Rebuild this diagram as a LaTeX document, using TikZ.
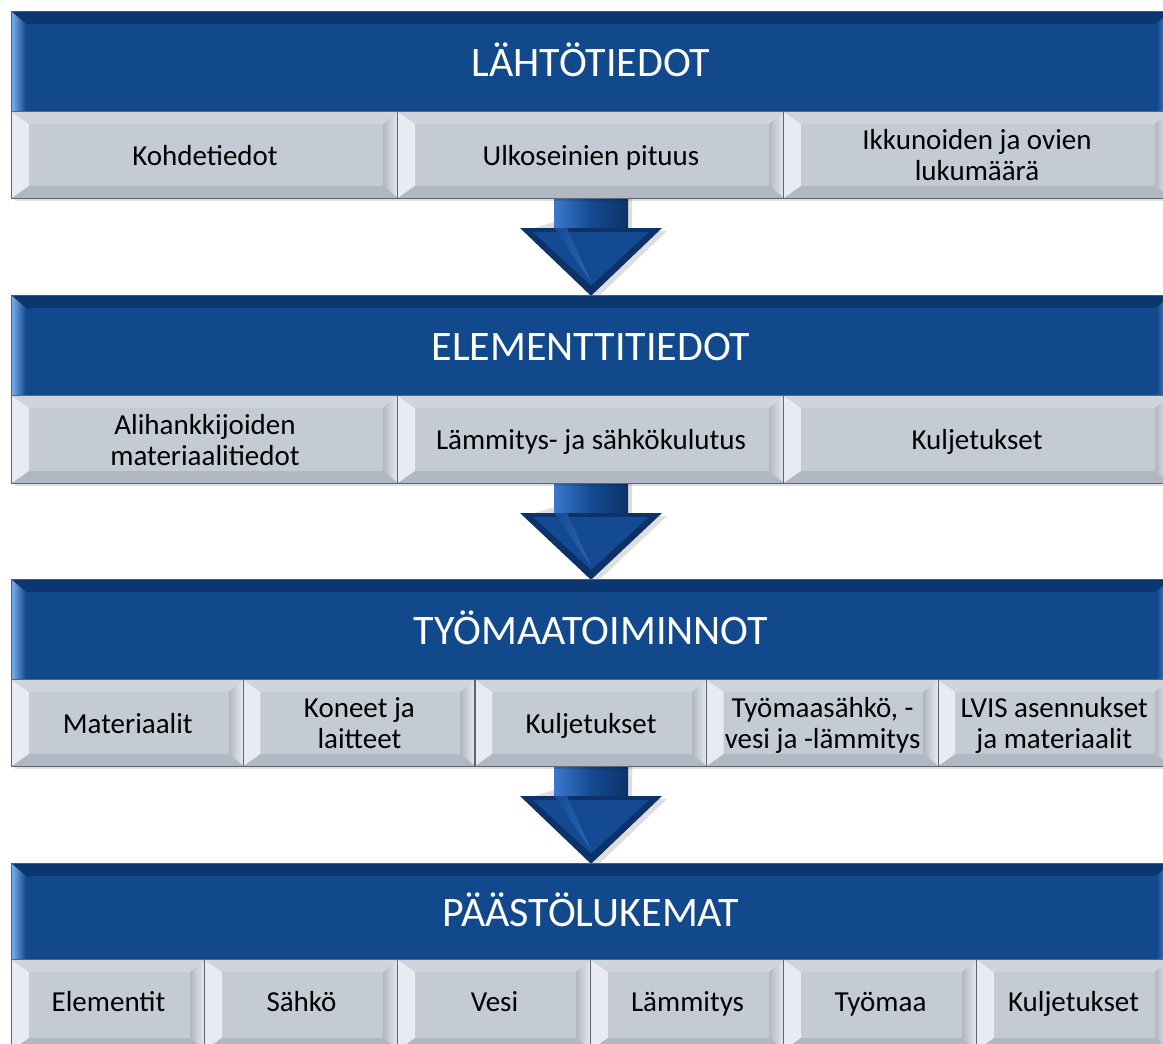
\documentclass[tikz,border=0pt]{standalone}
\usepackage{fontspec}
\setmainfont{Carlito}
\usetikzlibrary{calc}
\definecolor{hblue}{RGB}{18,72,140}
\definecolor{hbluedark}{RGB}{12,54,110}
\definecolor{hbluelight}{RGB}{120,175,235}
\definecolor{cellgray}{RGB}{197,203,213}
\definecolor{celllight}{RGB}{232,236,242}
\definecolor{cellmid}{RGB}{208,213,221}
\definecolor{celldark}{RGB}{178,184,195}
\definecolor{celledge}{RGB}{96,100,108}
\definecolor{arrowblue}{RGB}{20,74,145}
\definecolor{arrowlight}{RGB}{60,120,205}
\definecolor{arrowdark}{RGB}{12,50,105}

\newcommand\cellbevel[1]{%
  \fill[celllight] (#1.south west) -- (#1.north west) -- ($(#1.north west)+(17,12)$) -- ($(#1.south west)+(17,-12)$) -- cycle;
  \fill[cellmid] (#1.north west) -- (#1.north east) -- ($(#1.north east)+(-15,12)$) -- ($(#1.north west)+(17,12)$) -- cycle;
  \shade[left color=celldark, right color=celllight] (#1.north east) -- (#1.south east) -- ($(#1.south east)+(-15,-12)$) -- ($(#1.north east)+(-15,12)$) -- cycle;
  \fill[celldark] (#1.south west) -- (#1.south east) -- ($(#1.south east)+(-15,-12)$) -- ($(#1.south west)+(17,-12)$) -- cycle;
  \draw[celledge, line width=1.2pt] (#1.south west) rectangle (#1.north east);
}
\newcommand\headbevel[1]{%
  \fill[hbluedark] (#1.north west) -- (#1.north east) -- ($(#1.north east)+(-14,12)$) -- ($(#1.north west)+(14,12)$) -- cycle;
  \shade[left color=hbluelight, right color=hblue] (#1.north west) -- (#1.south west) -- ($(#1.south west)+(14,0)$) -- ($(#1.north west)+(14,12)$) -- cycle;
  \shade[left color=hblue, right color=hbluelight!70!hblue] (#1.north east) -- (#1.south east) -- ($(#1.south east)+(-14,0)$) -- ($(#1.north east)+(-14,12)$) -- cycle;
  \draw[celledge!70!hblue, line width=0.8pt] (#1.south west) rectangle (#1.north east);
}
\newcommand\bigarrow[2]{%
  % #1 top coordinate, #2 tip coordinate
  \fill[black, opacity=0.13] ($(#1)+(41,0)$) -- ($(#1)+(41,33)$) -- ($(#1)+(76,33)$) -- ($(#2)+(4,4)$) -- ($(#1)+(-66,33)$) -- cycle;
  \shade[left color=arrowlight, right color=arrowdark, middle color=arrowblue] ($(#1)+(-37,0)$) -- ($(#1)+(-37,32)$) -- ($(#1)+(37,32)$) -- ($(#1)+(37,0)$) -- cycle;
  \fill[arrowdark] ($(#1)+(-71,30)$) -- (#2) -- ($(#1)+(71,30)$) -- cycle;
  \fill[arrowblue] ($(#1)+(-58,34)$) -- ($(#2)+(0,-10)$) -- ($(#1)+(58,34)$) -- cycle;
  \shade[left color=arrowblue, right color=arrowlight!60!arrowblue] ($(#1)+(-37,30)$) -- ($(#1)+(-24,30)$) -- ($(#2)+(0,-14)$) -- cycle;
}

\tikzset{
  header/.style={fill=hblue, inner sep=0pt, minimum width=1158pt},
  headtext/.style={text=white, anchor=base, inner sep=0pt, font=\fontsize{42}{48}\selectfont},
  cellbox/.style={fill=cellgray, inner sep=0pt, minimum height=86pt},
  celltext/.style={text=black, align=center, inner sep=0pt, font=\fontsize{29}{31}\selectfont},
}

\begin{document}
\begin{tikzpicture}[x=1pt,y=-1pt]
\useasboundingbox (0,0) rectangle (1163,1044);
\fill[white] (0,0) rectangle (1163,1044);
\clip (0,0) rectangle (1163,1044);

% top coordinates for arrows
\coordinate (a1top) at (591,198);
\coordinate (a2top) at (591,483);
\coordinate (a3top) at (591,766);

% header nodes (defined first so the arrows can reach them)
\node[header, minimum height=100pt] (h2) at (591,346) {};
\node[header, minimum height=100pt] (h3) at (591,630) {};
\node[header, minimum height=96pt] (h4) at (591,912) {};
\bigarrow{a1top}{h2.north}
\bigarrow{a2top}{h3.north}
\bigarrow{a3top}{h4.north}

% band shadows
\foreach \ya/\yb in {12/198, 296/483, 580/766, 864/1044}
  \fill[black, opacity=0.12] (15,\ya+3) rectangle (1173,\yb+3);

% headers
\node[header, minimum height=100pt] (h1) at (591,62) {};
\headbevel{h1}
\node[headtext] (t1) at ($(h1.center)+(0,14)$) {LÄHTÖTIEDOT};
\node[header, minimum height=100pt] (h2) at (591,346) {};
\headbevel{h2}
\node[headtext] (t2) at ($(h2.center)+(0,14)$) {ELEMENTTITIEDOT};
\node[header, minimum height=100pt] (h3) at (591,630) {};
\headbevel{h3}
\node[headtext] (t3) at ($(h3.center)+(0,14)$) {TYÖMAATOIMINNOT};
\node[header, minimum height=96pt] (h4) at (591,912) {};
\headbevel{h4}
\node[headtext] (t4) at ($(h4.center)+(0,14)$) {PÄÄSTÖLUKEMAT};

% row 1
\foreach \t [count=\i] in {Kohdetiedot\strut, Ulkoseinien pituus\strut, {Ikkunoiden ja ovien\strut\\lukumäärä\strut}} {
  \node[cellbox, minimum width=386pt] (c1-\i) at (12+193+386*\i-386,155) {};
  \cellbevel{c1-\i}
  \node[celltext] (l1-\i) at ($(c1-\i.center)+(0,4)$) {\t};
}
% row 2
\foreach \t [count=\i] in {{Alihankkijoiden\strut\\materiaalitiedot\strut}, Lämmitys- ja sähkökulutus\strut, Kuljetukset\strut} {
  \node[cellbox, minimum width=386pt, minimum height=87pt] (c2-\i) at (12+193+386*\i-386,439.5) {};
  \cellbevel{c2-\i}
  \node[celltext] (l2-\i) at ($(c2-\i.center)+(0,4)$) {\t};
}
% row 3
\foreach \t [count=\i] in {Materiaalit\strut, {Koneet ja\strut\\laitteet\strut}, Kuljetukset\strut, {Työmaasähkö, -\strut\\vesi ja -lämmitys\strut}, {LVIS asennukset\strut\\ja materiaalit\strut}} {
  \node[cellbox, minimum width=231.6pt] (c3-\i) at (12+115.8+231.6*\i-231.6,723) {};
  \cellbevel{c3-\i}
  \node[celltext] (l3-\i) at ($(c3-\i.center)+(0,4)$) {\t};
}
% row 4
\foreach \t [count=\i] in {Elementit\strut, Sähkö\strut, Vesi\strut, Lämmitys\strut, Työmaa\strut, Kuljetukset\strut} {
  \node[cellbox, minimum width=193pt, minimum height=90pt] (c4-\i) at (12+96.5+193*\i-193,1005) {};
  \cellbevel{c4-\i}
  \node[celltext] (l4-\i) at (12+96.5+193*\i-193,1005) {\t};
}
\end{tikzpicture}
\end{document}
